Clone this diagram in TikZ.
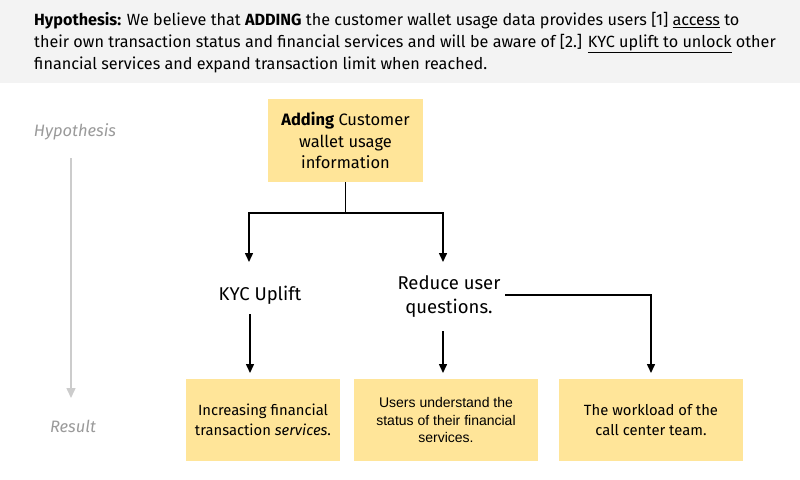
\documentclass[tikz,border=0pt]{standalone}
\usepackage{fontspec}
\setmainfont{Fira Sans}
\newfontfamily\arialfont{Liberation Sans}
\usetikzlibrary{arrows.meta}
\definecolor{hdrgray}{HTML}{F3F3F3}
\definecolor{stickyyellow}{HTML}{FFE599}
\definecolor{axisgray}{HTML}{CCCCCC}
\definecolor{labelgray}{HTML}{9A9A9A}
\begin{document}
\begin{tikzpicture}[x=1pt,y=-1pt,
  sticky/.style={fill=stickyyellow, draw=none, align=center, inner sep=0pt},
  bigtext/.style={font=\fontsize{16.5}{21.5}\selectfont, align=center, inner sep=0pt},
  midtext/.style={font=\fontsize{18.5}{24}\selectfont, align=center, inner sep=0pt},
  smalltext/.style={font=\fontsize{14.8}{20}\selectfont},
  flow/.style={line width=1.5pt, -{Triangle[length=9pt,width=8pt]}},
  plainline/.style={line width=1.5pt},
  axislabel/.style={font=\itshape\fontsize{16.5}{18}\selectfont, text=labelgray, inner sep=0pt},
  axisarrow/.style={draw=axisgray, line width=1.5pt, -{Triangle[length=10pt,width=9pt]}}]
\useasboundingbox (0,0) rectangle (800,479);
\fill[hdrgray] (0,0) rectangle (800,83);
\node[anchor=north west, align=left, inner sep=0pt, font=\fontsize{16.2}{22}\selectfont] (hdr) at (34,12)
  {\textbf{Hypothesis:} We believe that \textbf{ADDING} the customer wallet usage data provides users [1] \underline{access} to\\
   their own transaction status and financial services and will be aware of [2.] \underline{KYC uplift to unlock} other\\
   financial services and expand transaction limit when reached.};

% left axis
\node[axislabel] (hyp) at (75,132) {Hypothesis};
\node[axislabel] (res) at (73,426) {Result};
\coordinate (axtop) at (71,158);
\coordinate (axbot) at (71,398);
\draw[axisarrow] (axtop) -- (axbot);

% top box
\node[sticky, bigtext, minimum width=155pt, minimum height=83pt] (top) at (345.5,140.5)
  {\textbf{Adding} Customer\\wallet usage\\information};

% middle labels
\node[midtext] (kyc) at (260,295) {KYC Uplift};
\node[midtext] (red) at (449,297) {Reduce user\\questions.};

% bottom boxes
\node[sticky, smalltext, minimum width=154pt, minimum height=82pt] (b1) at (263,420)
  {Increasing financial\\transaction \textit{services}.};
\node[sticky, minimum width=184pt, minimum height=82pt, font=\arialfont\fontsize{14}{17.5}\selectfont] (b2) at (446,420)
  {Users understand the\\status of their financial\\services.};
\node[sticky, smalltext, minimum width=184pt, minimum height=82pt] (b3) at (651,420)
  {The workload of the\\call center team.};

% connectors
\coordinate (junc) at (345.5,213);
\coordinate (kycin) at (249,262);
\coordinate (redin) at (443,262);
\draw[plainline] (top.south) -- (junc);
\draw[flow] (junc) -| (kycin);
\draw[flow] (junc) -| (redin);

\coordinate (kycout) at (250,314);
\coordinate (b1in) at (250,373);
\draw[flow] (kycout) -- (b1in);

\coordinate (redout) at (443,331);
\coordinate (b2in) at (443,373);
\draw[flow] (redout) -- (b2in);

\coordinate (redright) at (505,295);
\coordinate (b3in) at (651,373);
\draw[flow] (redright) -| (b3in);
\end{tikzpicture}
\end{document}
